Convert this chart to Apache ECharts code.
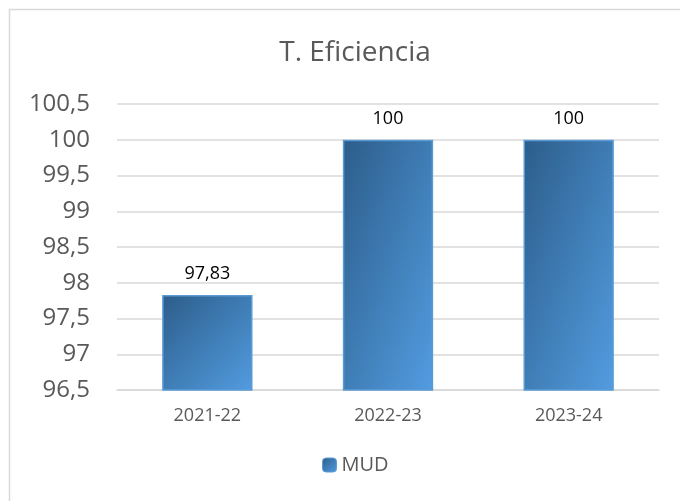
<!DOCTYPE html>
<html>
<head>
<meta charset="utf-8">
<script src="https://cdn.jsdelivr.net/npm/echarts@6/dist/echarts.min.js"></script>
<style>
  html, body { margin: 0; padding: 0; background: #fff; }
  #main { width: 680px; height: 501px; }
</style>
</head>
<body>
<div id="main"></div>
<script>
// datos del grafico
var categorias = ['2021-22', '2022-23', '2023-24'];
var valoresMUD = [97.83, 100, 100];
var nombreSerie = 'MUD';
var ejeMin = 96.5, ejeMax = 100.5, ejePaso = 0.5;

var fuente = '"Open Sans", sans-serif';
var oscuro = '#2c5d8a', claro = '#529ce0';

var myChart = echarts.init(document.getElementById('main'));

// formato con coma decimal
function coma(v) {
  return String(v).replace('.', ',');
}

// degradado "escalado con la forma" (esquina sup-izq oscura -> inf-der clara)
var altoGrid = 286, anchoBarra = 91;
function relleno(params) {
  var h = Math.max(1, (params.value - ejeMin) / (ejeMax - ejeMin) * altoGrid);
  var w = anchoBarra;
  var s = h * h + w * w;
  return new echarts.graphic.LinearGradient(0, 0, 2 * h * h / s, 2 * w * w / s, [
    { offset: 0, color: oscuro },
    { offset: 1, color: claro }
  ]);
}

var option = {
  backgroundColor: '#fff',
  animation: false,
  graphic: [{
    type: 'rect',
    shape: { x: 9.5, y: 9.5, width: 700, height: 600 },
    style: { fill: 'none', stroke: '#d9d9d9', lineWidth: 1.5 },
    silent: true
  }],
  title: {
    text: 'T. Eficiencia',
    left: 350,
    textAlign: 'center',
    top: 34,
    textStyle: { color: '#595959', fontSize: 28, fontWeight: 'normal', fontFamily: fuente }
  },
  legend: {
    bottom: 21,
    left: 317,
    itemWidth: 14,
    itemHeight: 14,
    itemGap: 5,
    itemStyle: {
      color: new echarts.graphic.LinearGradient(0, 0, 1, 1, [
        { offset: 0, color: oscuro }, { offset: 1, color: claro }
      ]),
      borderColor: '#5b9bd5', borderWidth: 1
    },
    textStyle: { color: '#595959', fontSize: 20, fontFamily: fuente },
    data: [nombreSerie]
  },
  grid: { left: 117, right: 21, top: 104, bottom: 111 },
  xAxis: {
    type: 'category',
    data: categorias,
    axisTick: { show: false },
    axisLine: { lineStyle: { color: '#d9d9d9', width: 1.5 } },
    axisLabel: { color: '#595959', fontSize: 18, margin: 17, fontFamily: fuente }
  },
  yAxis: {
    type: 'value',
    min: ejeMin,
    max: ejeMax,
    interval: ejePaso,
    axisLine: { show: false },
    axisTick: { show: false },
    splitLine: { lineStyle: { color: '#d9d9d9', width: 1.5 } },
    axisLabel: { color: '#595959', fontSize: 24, margin: 27, fontFamily: fuente, formatter: coma }
  },
  series: [{
    name: nombreSerie,
    type: 'bar',
    data: valoresMUD,
    barWidth: '50%',
    itemStyle: { color: relleno, borderColor: '#5b9bd5', borderWidth: 1.5 },
    label: {
      show: true,
      position: 'top',
      distance: 12,
      color: '#000',
      fontSize: 18,
      fontFamily: fuente,
      formatter: function (p) { return coma(p.value); }
    }
  }]
};

myChart.setOption(option);
</script>
</body>
</html>
